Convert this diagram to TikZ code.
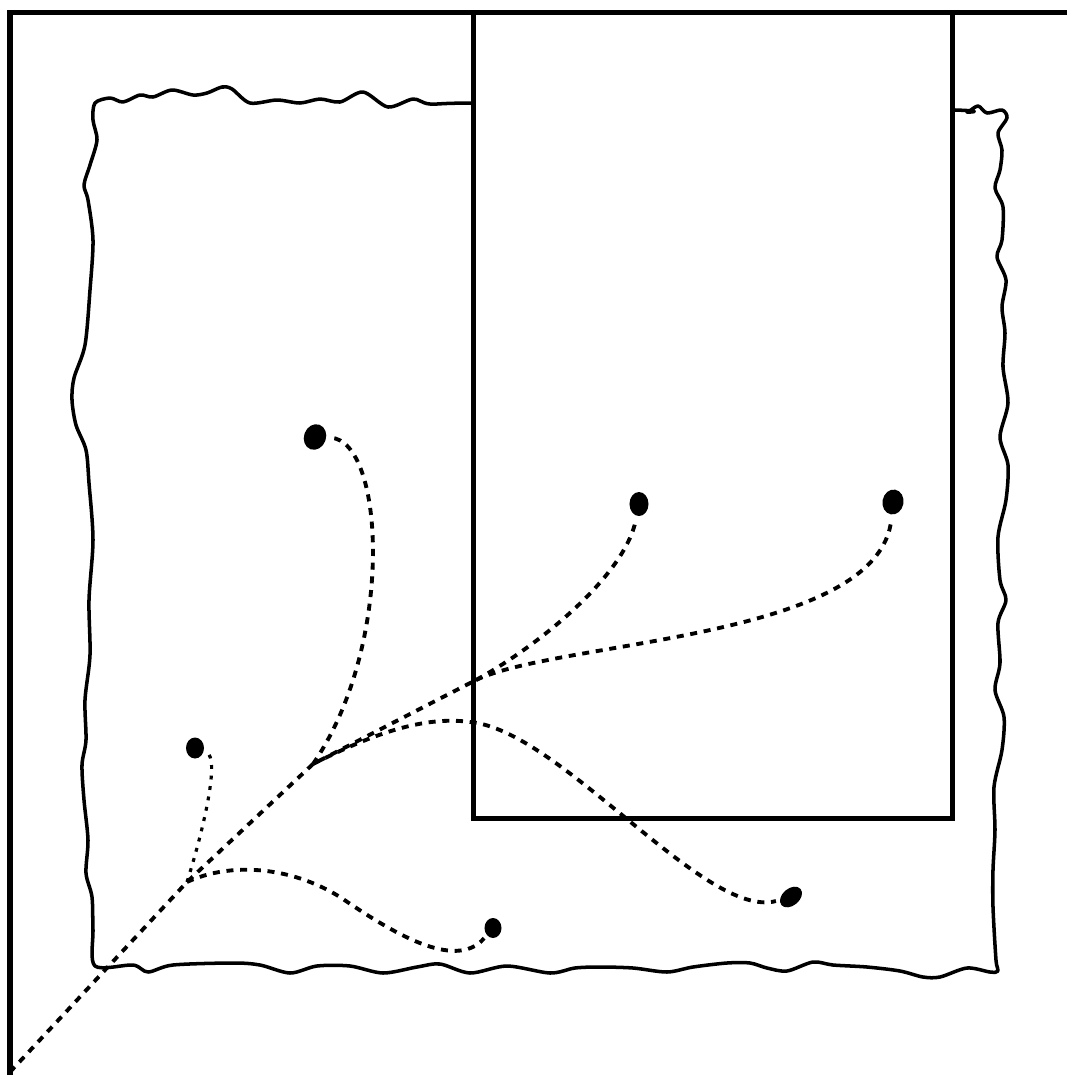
\documentclass[tikz,border=0pt]{standalone}
\usepackage{xcolor}
\usetikzlibrary{shapes.geometric}
\tikzset{
    % Outer frame, thick solid strokes
    frame line/.style={line width=1.6pt},
    % Ragged, hand-drawn outline
    ragged edge/.style={line width=1pt, line join=round},
    % Solid box laid over the ragged outline
    window box/.style={draw, fill=white, line width=1.4pt},
    % Dashed lineage strokes
    lineage/.style={line width=1.1pt, dash pattern=on 2pt off 1.9pt, shorten >=1pt},
    lineage fine/.style={lineage, line width=0.9pt, dash pattern=on 1.1pt off 1.9pt},
    % Black tip dots
    tip dot/.style={ellipse, fill=black, inner sep=0pt},
}

\begin{document}
\begin{tikzpicture}[x=0.01cm, y=-0.01cm]
    \useasboundingbox (0,0) rectangle (1067,1075);

    % frame
    \draw[frame line] (10,1075) -- (10,12.5) -- (1067,12.5);

    % ragged outline
    \draw[ragged edge] plot[smooth cycle, tension=0.5] coordinates {
        (95,103) (110,98) (123,102) (140,95) (153,97) (172,90) (193,95)
        (207,93) (222,87) (232,89) (250,103) (277,100) (300,103) (320,99)
        (340,102) (363,92) (388,107) (413,99) (430,104) (474,103) (700,103)
        (955,110) (967,112) (978,106) (987,113) (1002,110) (1007,118)
        (998,133) (1002,150) (1000,170) (995,188) (1003,207)
        (1002,240) (997,257) (1006,280) (1002,307) (1005,333)
        (1003,367) (1008,403) (1000,437) (1008,465)
        (1006,500) (998,537) (1000,580) (1006,600) (998,623)
        (1000,663) (995,690) (1004,717) (1002,750) (994,787)
        (995,830) (993,870) (993,907) (996,960)
        (998,971) (990,972) (967,968) (940,977) (923,977) (900,971)
        (867,967) (833,965) (813,962) (787,971) (767,968) (750,963)
        (727,963) (693,967) (667,972) (633,968) (600,967) (575,968)
        (550,973) (507,966) (470,973) (440,964) (417,967) (383,973)
        (350,966) (317,966) (290,973) (260,965) (233,963) (173,965)
        (148,972) (133,965) (95,966)
        (93,930) (92,897) (86,873) (88,840) (84,800)
        (82,765) (86,740) (85,700) (90,655) (89,600)
        (93,540) (89,483) (86,450) (76,425) (72,400) (74,378)
        (85,345) (90,290) (93,240) (88,200) (84,185)
        (90,165) (97,140) (93,120)
    };

    % box
    \node (window) [window box, inner sep=0pt, minimum width=4.78cm,
        minimum height=8.06cm] at (713,415.5) {};

    % tips
    \node (d1) [tip dot, minimum width=0.22cm, minimum height=0.26cm, rotate=-20] at (315,437) {};
    \node (d2) [tip dot, minimum width=0.19cm, minimum height=0.24cm] at (639,504) {};
    \node (d3) [tip dot, minimum width=0.21cm, minimum height=0.25cm, rotate=-10] at (893,502) {};
    \node (d4) [tip dot, minimum width=0.18cm, minimum height=0.21cm] at (195,748) {};
    \node (d5) [tip dot, minimum width=0.25cm, minimum height=0.17cm, rotate=40] at (791,897) {};
    \node (d6) [tip dot, minimum width=0.17cm, minimum height=0.20cm] at (493,928) {};

    % branch points
    \coordinate (root) at (10,1072);
    \coordinate (b1) at (187,882);
    \coordinate (b2) at (313,764);
    \coordinate (b3) at (476,680);

    % lineages
    \draw[lineage] (root) -- (b1) -- (b2) -- (b3);
    \draw[lineage fine] (b1) .. controls (208,815) and (218,758) .. (d4);
    \draw[lineage] (b1) .. controls (230,862) and (290,866) .. (340,897)
        .. controls (390,931) and (455,972) .. (d6);
    \draw[lineage] (b2) .. controls (395,645) and (385,440) .. (d1);
    \draw[lineage] (b2) .. controls (365,738) and (420,715) .. (470,722)
        .. controls (560,730) and (705,920) .. (d5);
    \draw[lineage] (b3) .. controls (540,645) and (625,575) .. (d2);
    \draw[lineage] (b3) .. controls (560,640) and (880,640) .. (d3);
\end{tikzpicture}
\end{document}
